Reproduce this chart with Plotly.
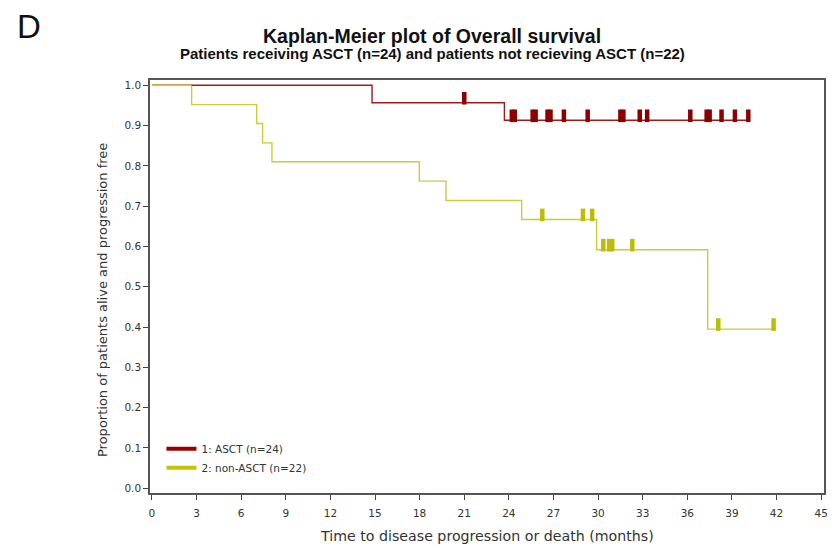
import plotly.graph_objects as go

# ---- data ----
asct_times = [0, 14.8, 23.7, 40.2]
asct_surv = [1.0, 0.9565, 0.9130, 0.9130]
asct_cens_t = [21.0, 24.2, 24.4, 25.6, 25.8, 26.6, 26.8, 27.7, 29.3, 31.5, 31.7,
               32.8, 33.3, 36.2, 37.3, 37.5, 38.3, 39.2, 40.1]
asct_cens_s = [0.9565] + [0.9130] * 18

non_times = [0, 2.67, 7.04, 7.44, 8.07, 17.98, 19.77, 24.86, 29.9, 37.37, 41.96]
non_surv = [1.0, 0.952, 0.905, 0.857, 0.810, 0.762, 0.714, 0.667, 0.592, 0.395, 0.395]
non_cens_t = [26.25, 28.98, 29.6, 30.35, 30.75, 30.95, 32.3, 38.08, 41.8]
non_cens_s = [0.667, 0.667, 0.667, 0.592, 0.592, 0.592, 0.592, 0.395, 0.395]

x_ticks = list(range(0, 46, 3))
y_ticks = [i / 10 for i in range(11)]

RED_LINE = "#a31a1a"
RED_MARK = "#8b0000"
YEL_LINE = "#cccc3a"
YEL_MARK = "#bdbd00"

# page has an 8px body margin; plot area in page pixels: x 150-824, y 80-493
PX_L, PX_R, PX_T, PX_B = 150, 824, 80, 493


def px_x(px):
    return (px - PX_L) / (PX_R - PX_L)


def px_y(py):
    return (PX_B - py) / (PX_B - PX_T)


# vertical offset so censor ticks sit on top of the line (~4.5 px)
tick_off = 0.0112

fig = go.Figure()

fig.add_trace(go.Scatter(x=non_times, y=non_surv, mode="lines", line_shape="hv",
                         line=dict(color=YEL_LINE, width=1.4), showlegend=False,
                         hoverinfo="skip"))
fig.add_trace(go.Scatter(x=asct_times, y=asct_surv, mode="lines", line_shape="hv",
                         line=dict(color=RED_LINE, width=1.4), showlegend=False,
                         hoverinfo="skip"))
# redraw initial yellow segment on top (as in reference)
fig.add_trace(go.Scatter(x=non_times[:2], y=non_surv[:1] * 2, mode="lines",
                         line=dict(color=YEL_LINE, width=1.4), showlegend=False,
                         hoverinfo="skip"))

fig.add_trace(go.Scatter(x=asct_cens_t, y=[s + tick_off for s in asct_cens_s],
                         mode="markers",
                         marker=dict(symbol="line-ns", size=9,
                                     line=dict(color=RED_MARK, width=4.5)),
                         showlegend=False, hoverinfo="skip"))
fig.add_trace(go.Scatter(x=non_cens_t, y=[s + tick_off for s in non_cens_s],
                         mode="markers",
                         marker=dict(symbol="line-ns", size=9,
                                     line=dict(color=YEL_MARK, width=4.5)),
                         showlegend=False, hoverinfo="skip"))

# legend entries
fig.add_trace(go.Scatter(x=[None], y=[None], mode="lines", name="1: ASCT (n=24)",
                         line=dict(color="#990000", width=4)))
fig.add_trace(go.Scatter(x=[None], y=[None], mode="lines", name="2: non-ASCT (n=22)",
                         line=dict(color="#c4c400", width=4)))

axis_font = dict(family="DejaVu Sans, Verdana, sans-serif", size=10.5, color="#333")

fig.update_layout(
    width=828, height=546,
    margin=dict(l=PX_L - 8, r=836 - PX_R - 4, t=PX_T - 8, b=554 - PX_B),
    paper_bgcolor="white", plot_bgcolor="white",
    showlegend=True,
    legend=dict(x=0.017, y=0.142, xanchor="left", yanchor="top",
                bgcolor="rgba(0,0,0,0)", font=axis_font,
                tracegroupgap=0, itemwidth=30),
    xaxis=dict(range=[-0.13, 45.19], tickmode="array", tickvals=x_ticks,
               ticktext=[str(v) for v in x_ticks], ticks="outside", ticklen=5,
               tickcolor="#444", showline=True, linecolor="#555", linewidth=1.5,
               mirror=True, showgrid=False, zeroline=False, tickfont=axis_font,
               ticklabelstandoff=5),
    yaxis=dict(range=[-0.0117, 1.013], tickmode="array", tickvals=y_ticks,
               ticktext=["%.1f" % v for v in y_ticks], ticks="outside", ticklen=5,
               tickcolor="#444", showline=True, linecolor="#555", linewidth=1.5,
               mirror=True, showgrid=False, zeroline=False, tickfont=axis_font),
    annotations=[
        dict(text="D", x=px_x(15), y=px_y(26.8), xref="paper", yref="paper",
             showarrow=False, xanchor="left", yanchor="middle",
             font=dict(family="Liberation Sans, Arial, sans-serif", size=33, color="#111")),
        dict(text="<b>Kaplan-Meier plot of Overall survival</b>", x=px_x(431.5),
             y=px_y(36), xref="paper", yref="paper", showarrow=False,
             xanchor="center", yanchor="middle",
             font=dict(family="Liberation Sans, Arial", size=19.5, color="#111")),
        dict(text="<b>Patients receiving ASCT (n=24) and patients not recieving ASCT (n=22)</b>",
             x=px_x(432.5), y=px_y(53.5), xref="paper", yref="paper", showarrow=False,
             xanchor="center", yanchor="middle",
             font=dict(family="Liberation Sans, Arial", size=15, color="#111")),
        dict(text="Time to disease progression or death (months)",
             x=px_x(487), y=px_y(536), xref="paper", yref="paper", showarrow=False,
             xanchor="center", yanchor="middle",
             font=dict(family="DejaVu Sans, Verdana, sans-serif", size=14.2, color="#333")),
        dict(text="Proportion of patients alive and progression free",
             x=px_x(102), y=px_y(300), xref="paper", yref="paper", showarrow=False,
             xanchor="center", yanchor="middle", textangle=-90,
             font=dict(family="DejaVu Sans, Verdana, sans-serif", size=13, color="#333")),
    ],
)

fig.write_html("out.html")
